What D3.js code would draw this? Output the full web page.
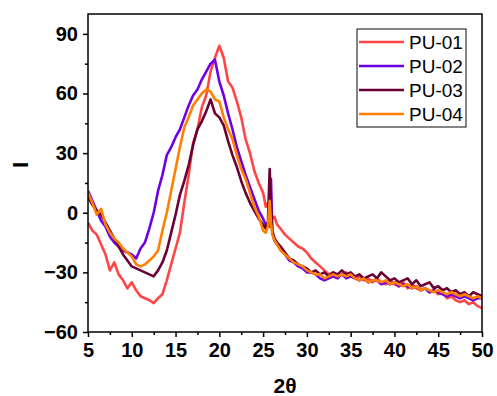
<!DOCTYPE html>
<html>
<head>
<meta charset="utf-8">
<script src="https://cdn.jsdelivr.net/npm/d3@7"></script>
<style>
  body { margin: 0; background: #fff; }
  svg { display: block; font-family: "Liberation Sans", Arial, sans-serif; }
</style>
</head>
<body>
<div id="chart"></div>
<script>
// 2-theta grid (finer around the 26 degree peak)
const angles = [5, 5.5, 6, 6.5, 7, 7.5, 8, 8.5, 9, 9.5, 10, 10.5, 11, 11.5, 12, 12.5, 13, 13.5, 14, 14.5,
  15, 15.5, 16, 16.5, 17, 17.5, 18, 18.5, 19, 19.5, 20, 20.5, 21, 21.5, 22, 22.5, 23, 23.5, 24, 24.5, 25,
  25.3, 25.55, 25.75, 25.9, 26.05, 26.3, 26.6,
  27, 27.5, 28, 28.5, 29, 29.5, 30, 30.5, 31, 31.5, 32, 32.5, 33, 33.5, 34, 34.5, 35, 35.5, 36, 36.5,
  37, 37.5, 38, 38.5, 39, 39.5, 40, 40.5, 41, 41.5, 42, 42.5, 43, 43.5, 44, 44.5, 45, 45.5, 46, 46.5,
  47, 47.5, 48, 48.5, 49, 49.5, 50];

const pu01 = [-5, -9, -11, -16, -21, -29, -25, -31, -34, -38, -35, -39, -42, -43, -44, -45.5, -43, -41, -34, -26,
  -18, -10, 5, 19, 35, 42, 53, 59, 71, 78, 84, 78, 66, 63, 56, 48, 37, 30, 21, 15, 10,
  3, 5, 1, 2, -3, -2, -6,
  -8, -11, -13, -15, -17, -18, -20, -23, -25, -27, -29, -31, -30, -32, -31, -30, -32, -33, -32, -34,
  -33, -35, -33, -35, -36, -34, -36, -37, -35, -38, -36, -38, -39, -38, -40, -39, -41, -40, -43, -42,
  -44, -45, -44, -46, -45, -47, -48];

const pu02 = [11, 6, 1, -4, -7, -12, -15, -17, -19, -20, -21, -23, -18, -15, -8, 0, 11, 19, 29, 33,
  38, 42, 48, 54, 59, 62, 67, 71, 75, 77, 66, 59, 50, 42, 33, 26, 19, 13, 7, 1, -3,
  -6, -5, -7, 17, -10, -14, -16,
  -18, -21, -24, -25, -27, -28, -30, -30, -31, -33, -34, -33, -32, -33, -31, -33, -32, -33, -34, -33,
  -35, -34, -34, -36, -35, -36, -35, -37, -36, -37, -38, -37, -39, -38, -40, -39, -40, -41, -42, -41,
  -42, -43, -42, -43, -44, -43, -43];

const pu03 = [8, 4, 1, -1, -5, -9, -13, -17, -21, -24, -27, -28, -29, -30, -31, -32, -29, -25, -19, -10,
  -1, 9, 16, 24, 34, 42, 46, 51, 57, 50, 48, 44, 36, 29, 23, 16, 10, 5, 1, -3, -6,
  -8, -5, 22, 4, -9, -13, -15,
  -17, -20, -23, -24, -26, -27, -28, -30, -29, -31, -30, -32, -30, -31, -29, -31, -30, -32, -31, -33,
  -32, -31, -33, -30, -32, -34, -33, -35, -34, -33, -36, -34, -37, -36, -35, -38, -37, -39, -38, -40,
  -39, -41, -40, -42, -40, -41, -42];

const pu04 = [10, 5, -1, 2, -6, -10, -13, -15, -18, -20, -22, -26, -27, -26, -24, -22, -19, -9, 0, 11,
  22, 33, 43, 48, 54, 57, 60, 62, 61, 57, 56, 48, 42, 37, 29, 22, 17, 10, 3, -2, -9,
  -10, -7, 6, -5, -11, -14, -16,
  -19, -21, -23, -25, -26, -27, -29, -30, -31, -31, -33, -32, -31, -32, -31, -32, -31, -33, -34, -33,
  -35, -34, -34, -35, -34, -36, -35, -36, -37, -36, -38, -37, -39, -38, -39, -40, -39, -40, -41, -40,
  -41, -42, -41, -42, -43, -42, -43];

const seriesNames = ['PU-01', 'PU-02', 'PU-03', 'PU-04'];
const seriesValues = [pu01, pu02, pu03, pu04];
const colors = ['#ff4545', '#6e00e6', '#6b0036', '#ff8000'];

const xTicks = [5, 10, 15, 20, 25, 30, 35, 40, 45, 50];
const xMinor = [7.5, 12.5, 17.5, 22.5, 27.5, 32.5, 37.5, 42.5, 47.5];
const yTicks = [-60, -30, 0, 30, 60, 90];
const yMinor = [-45, -15, 15, 45, 75];

const width = 497;
const height = 396;
const margin = { top: 14, right: 15, bottom: 64, left: 88 };

const svg = d3.select('#chart').append('svg')
  .attr('width', width)
  .attr('height', height);

const x = d3.scaleLinear().domain([5, 50]).range([margin.left, width - margin.right]);
const y = d3.scaleLinear().domain([-60, 100]).range([height - margin.bottom, margin.top]);

const plot = svg.append('g');

// clip lines to the frame
svg.append('clipPath').attr('id', 'clip')
  .append('rect')
  .attr('x', margin.left).attr('y', margin.top)
  .attr('width', x(50) - x(5)).attr('height', y(-60) - y(100));

const line = d3.line()
  .x((d, i) => x(angles[i]))
  .y(d => y(d));

seriesValues.forEach((vals, k) => {
  plot.append('path')
    .datum(vals)
    .attr('clip-path', 'url(#clip)')
    .attr('fill', 'none')
    .attr('stroke', colors[k])
    .attr('stroke-width', 2.6)
    .attr('stroke-linejoin', 'round')
    .attr('d', line);
});

// frame
svg.append('rect')
  .attr('x', x(5)).attr('y', y(100))
  .attr('width', x(50) - x(5)).attr('height', y(-60) - y(100))
  .attr('fill', 'none').attr('stroke', '#000').attr('stroke-width', 1.5);

// x axis
svg.append('g')
  .attr('transform', 'translate(0,' + y(-60) + ')')
  .call(d3.axisBottom(x).tickValues(xTicks).tickSize(5).tickPadding(6));
svg.append('g')
  .attr('transform', 'translate(0,' + y(-60) + ')')
  .call(d3.axisBottom(x).tickValues(xMinor).tickSize(3).tickFormat(''));

// y axis
svg.append('g')
  .attr('transform', 'translate(' + x(5) + ',0)')
  .call(d3.axisLeft(y).tickValues(yTicks).tickSize(5).tickPadding(5));
svg.append('g')
  .attr('transform', 'translate(' + x(5) + ',0)')
  .call(d3.axisLeft(y).tickValues(yMinor).tickSize(3).tickFormat(''));

svg.selectAll('.domain').remove();
svg.selectAll('.tick line').attr('stroke', '#000').attr('stroke-width', 1.5);
svg.selectAll('.tick text')
  .attr('fill', '#000')
  .style('font-size', '20px')
  .style('font-weight', 'bold')
  .style('font-family', '"Liberation Sans", Arial, sans-serif');

// axis titles
svg.append('text')
  .attr('x', 285).attr('y', 393)
  .attr('text-anchor', 'middle')
  .style('font-size', '21px').style('font-weight', 'bold')
  .text('2θ');

svg.append('text')
  .attr('transform', 'translate(28,165) rotate(-90)')
  .attr('text-anchor', 'middle')
  .style('font-size', '22px').style('font-weight', 'bold')
  .text('I');

// legend
const legend = svg.append('g');
legend.append('rect')
  .attr('x', 357).attr('y', 29)
  .attr('width', 109).attr('height', 98)
  .attr('fill', '#fff').attr('stroke', '#333').attr('stroke-width', 1.2);

seriesNames.forEach((name, k) => {
  const ly = 42 + k * 24;
  legend.append('line')
    .attr('x1', 359).attr('x2', 404)
    .attr('y1', ly).attr('y2', ly)
    .attr('stroke', colors[k]).attr('stroke-width', 2.6);
  legend.append('text')
    .attr('x', 409).attr('y', ly + 7)
    .style('font-size', '19px')
    .text(name);
});
</script>
</body>
</html>
